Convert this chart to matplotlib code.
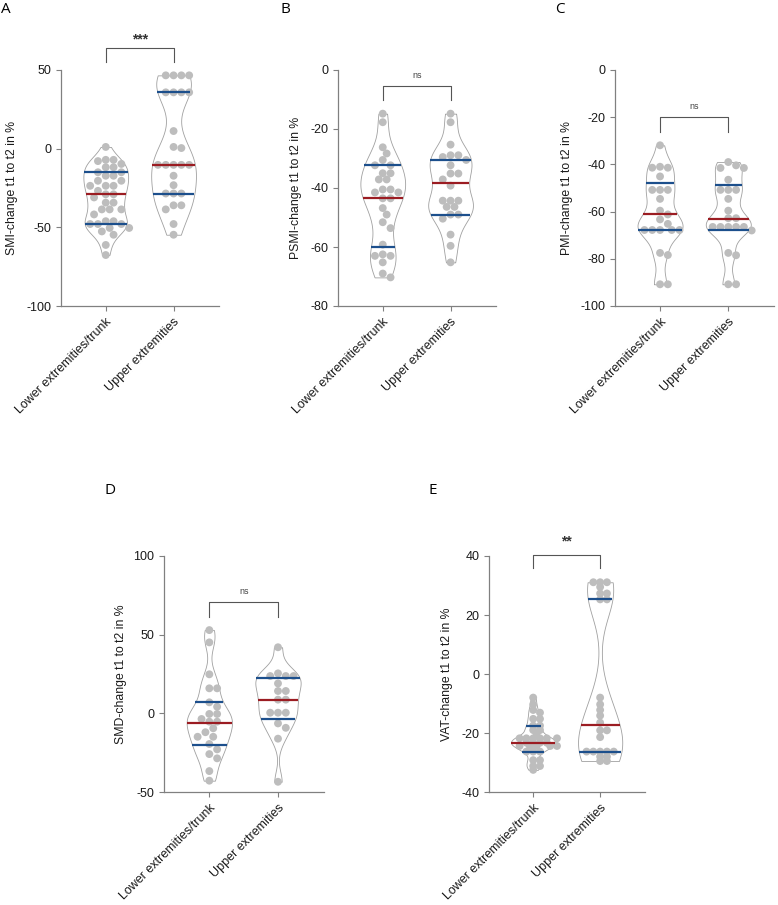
import numpy as np
import matplotlib.pyplot as plt

plt.rcParams['font.family'] = ['Liberation Sans', 'DejaVu Sans']
plt.rcParams['axes.unicode_minus'] = False

groups = ["Lower extremities/trunk", "Upper extremities"]

# A - SMI
smi_lower = [1.1, -7.1, -7.1, -7.9, -9.7, -11.8, -11.8, -15.0, -15.0, -17.2, -17.2, -20.4, -20.4,
             -23.6, -23.6, -23.6, -26.8, -29.0, -29.0, -31.0, -34.3, -34.3, -38.6, -38.6, -38.6,
             -41.8, -46.1, -46.1, -47.9, -47.9, -47.9, -50.4, -50.4, -52.6, -54.7, -61.2, -67.6]
smi_upper = [46.6, 46.6, 46.6, 46.6, 35.8, 35.8, 35.8, 35.8, 11.2, 1.1, 0.4, -10.3, -10.3, -10.3,
             -10.3, -10.3, -17.2, -23.2, -28.5, -28.5, -28.5, -36.0, -36.0, -38.6, -47.9, -54.7]
smi_stats = [(-47.9, -28.5, -14.8), (-29.0, -10.3, 35.8)]  # q1, median, q3

# B - PSMI
psmi_lower = [-14.8, -17.7, -26.2, -28.3, -30.5, -32.3, -32.3, -35.0, -35.0, -37.1, -37.1, -40.5,
              -40.5, -41.5, -41.5, -43.5, -43.5, -46.8, -49.0, -51.6, -53.6, -59.2, -62.5, -63.0,
              -63.0, -65.2, -69.0, -70.3]
psmi_upper = [-14.8, -17.7, -25.3, -28.9, -28.9, -29.5, -30.5, -32.3, -35.1, -35.1, -37.1, -39.2,
              -44.3, -44.3, -44.3, -46.4, -46.4, -49.0, -49.0, -50.4, -55.8, -59.6, -65.2]
psmi_stats = [(-59.9, -43.3, -32.3), (-49.3, -38.3, -30.5)]

# C - PMI
pmi_lower = [-31.9, -41.4, -41.4, -41.0, -45.1, -50.8, -50.8, -50.8, -54.6, -59.6, -61.2, -63.3,
             -65.2, -67.8, -67.8, -67.8, -67.8, -67.8, -77.5, -78.4, -90.8, -90.8]
pmi_upper = [-39.0, -40.4, -41.5, -41.5, -46.5, -50.8, -50.8, -50.8, -54.6, -59.6, -62.8, -62.8,
             -66.5, -66.5, -66.5, -66.5, -66.5, -68.0, -77.5, -78.5, -90.8, -90.8]
pmi_stats = [(-67.8, -60.9, -47.9), (-67.8, -63.3, -48.7)]

# D - SMD
smd_lower = [52.9, 45.1, 24.8, 15.9, 15.9, 7.0, 4.2, -0.4, -0.4, -3.6, -5.3, -5.3, -9.5, -12.0,
             -14.9, -14.9, -19.5, -22.9, -25.9, -28.6, -36.7, -42.8]
smd_upper = [42.0, 25.4, 23.7, 23.7, 23.7, 19.0, 14.2, 14.2, 8.7, 8.7, 0.4, 0.4, 0.4, -6.4, -9.2,
             -16.1, -43.5]
smd_stats = [(-20.0, -6.0, 7.0), (-3.6, 8.7, 22.2)]

# E - VAT
vat_lower = [-8.0, -10.3, -12.2, -13.1, -15.2, -15.2, -17.5, -17.5, -19.0, -19.0, -20.1,
             -21.8, -21.8, -21.8, -21.8, -21.8, -21.8, -23.3, -23.3, -23.3, -23.3,
             -24.4, -24.4, -24.4, -24.4, -24.4, -26.3, -26.3, -26.3, -29.2, -29.2, -31.2, -31.2, -32.5]
vat_upper = [31.1, 31.1, 31.1, 29.5, 27.3, 27.3, 25.3, 25.3, -8.0, -10.3, -12.2, -14.1, -16.5,
             -19.1, -19.1, -21.4, -26.3, -26.3, -26.3, -26.3, -26.3, -28.0, -28.0, -29.5, -29.5]
vat_stats = [(-26.3, -23.3, -17.5), (-26.3, -17.2, 25.3)]

W, H = 778, 905
fig = plt.figure(figsize=(W / 100, H / 100), dpi=100)

DOT = "#bdbdbd"
RED = "#9b1c22"
BLUE = "#1c4f8c"
AXC = "#808080"


def kde(vals, grid, factor=0.75):
    v = np.asarray(vals, float)
    sd = v.std(ddof=1)
    iqr = np.subtract(*np.percentile(v, [75, 25]))
    bw = 0.9 * min(sd, iqr / 1.34) * len(v) ** -0.2 * factor
    z = (grid[:, None] - v[None, :]) / bw
    return np.exp(-0.5 * z ** 2).sum(1)


def swarm_x(ax, vals, xc, d=7.8, dv=0.9):
    # greedy beeswarm in pixel space, dv shrinks the vertical collision distance
    pts = ax.transData.transform(np.column_stack([np.full(len(vals), xc), vals]))
    ys = pts[:, 1]
    x0 = pts[0, 0]
    step = d / 2
    placed = []
    xs = np.zeros(len(vals))
    for i in np.argsort(-ys):
        y = ys[i]
        for k in range(60):
            off = ((k + 1) // 2) * step * (1 if k % 2 else -1)
            if all(((off - px) / d) ** 2 + ((y - py) / (d * dv)) ** 2 >= 1 for px, py in placed):
                break
        placed.append((off, y))
        xs[i] = x0 + off
    return ax.transData.inverted().transform(np.column_stack([xs, ys]))[:, 0]


panels = [
    # letter, letter pos, axes box (px), data, stats, ylim, yticks, ylabel, bracket, label offset, d, dv
    ("A", (1, 2), (61, 70, 219, 306), (smi_lower, smi_upper), smi_stats, (-100, 50),
     [-100, -50, 0, 50], "SMI-change t1 to t2 in %", (64, 55, "***", 69.5), -43, 7.8, 0.9),
    ("B", (280, 2), (338, 70, 496, 306), (psmi_lower, psmi_upper), psmi_stats, (-80, 0),
     [-80, -60, -40, -20, 0], "PSMI-change t1 to t2 in %", (-5.4, -10.2, "ns", -1.7), -36, 7.8, 0.9),
    ("C", (555, 2), (615, 70, 774, 306), (pmi_lower, pmi_upper), pmi_stats, (-100, 0),
     [-100, -80, -60, -40, -20, 0], "PMI-change t1 to t2 in %", (-19.9, -26.3, "ns", -15.3), -42, 7.8, 0.9),
    ("D", (105, 483), (164, 556, 324, 792), (smd_lower, smd_upper), smd_stats, (-50, 100),
     [-50, 0, 50, 100], "SMD-change t1 to t2 in %", (70.7, 61.2, "ns", 77.7), -37, 7.8, 0.9),
    ("E", (428, 483), (489, 556, 645, 792), (vat_lower, vat_upper), vat_stats, (-40, 40),
     [-40, -20, 0, 20, 40], "VAT-change t1 to t2 in %", (40.3, 35.9, "**", 45.0), -36, 6.8, 0.5),
]

for letter, lpos, box, data, stats, ylim, yticks, ylabel, bracket, lab_off, d, dv in panels:
    x0, y0, x1, y1 = box
    ax = fig.add_axes([x0 / W, 1 - y1 / H, (x1 - x0) / W, (y1 - y0) / H])
    ax.set_xlim(-0.66, 1.67)
    ax.set_ylim(*ylim)
    ax.set_yticks(yticks)
    ax.set_xticks([0, 1])
    ax.set_xticklabels(groups, rotation=45, ha="right", rotation_mode="anchor")
    for s in ["top", "right"]:
        ax.spines[s].set_visible(False)
    for s in ["left", "bottom"]:
        ax.spines[s].set_color(AXC)
        ax.spines[s].set_linewidth(0.9)
    ax.tick_params(colors=AXC, labelcolor="#1a1a1a", labelsize=9, length=3.5, width=0.8)
    ax.set_ylabel(ylabel, fontsize=8.8, color="#1a1a1a")
    ax.yaxis.set_label_coords(lab_off / (x1 - x0), 0.5)

    for xc, vals, (q1, med, q3) in zip([0, 1], data, stats):
        grid = np.linspace(min(vals), max(vals), 300)
        dens = kde(vals, grid)
        w = dens / dens.max() * 0.33
        ax.fill_betweenx(grid, xc - w, xc + w, facecolor="white", edgecolor="#a0a0a0",
                         linewidth=0.6, zorder=1)
        xs = swarm_x(ax, vals, xc, d=d, dv=dv)
        ax.scatter(xs, vals, s=32, color=DOT, edgecolors="none", zorder=2)
        for q, c in [(q1, BLUE), (med, RED), (q3, BLUE)]:
            wq = np.interp(q, grid, w)
            ax.plot([xc - wq, xc + wq], [q, q], color=c, lw=1.6, zorder=3,
                    solid_capstyle="butt")

    ytop, yleg, sig, ytxt = bracket
    ax.plot([0, 0, 1, 1], [yleg, ytop, ytop, yleg], color="#555555", lw=0.8, clip_on=False)
    if sig == "ns":
        ax.text(0.5, ytxt, sig, ha="center", va="center", fontsize=6.5, color="#444444")
    else:
        ax.text(0.5, ytxt, sig, ha="center", va="center", fontsize=10, fontweight="bold",
                color="#333333")

    fig.text(lpos[0] / W, 1 - lpos[1] / H, letter, ha="left", va="top", fontsize=11,
             family=["Open Sans", "DejaVu Sans"])

fig.savefig("out.png", dpi=100)
